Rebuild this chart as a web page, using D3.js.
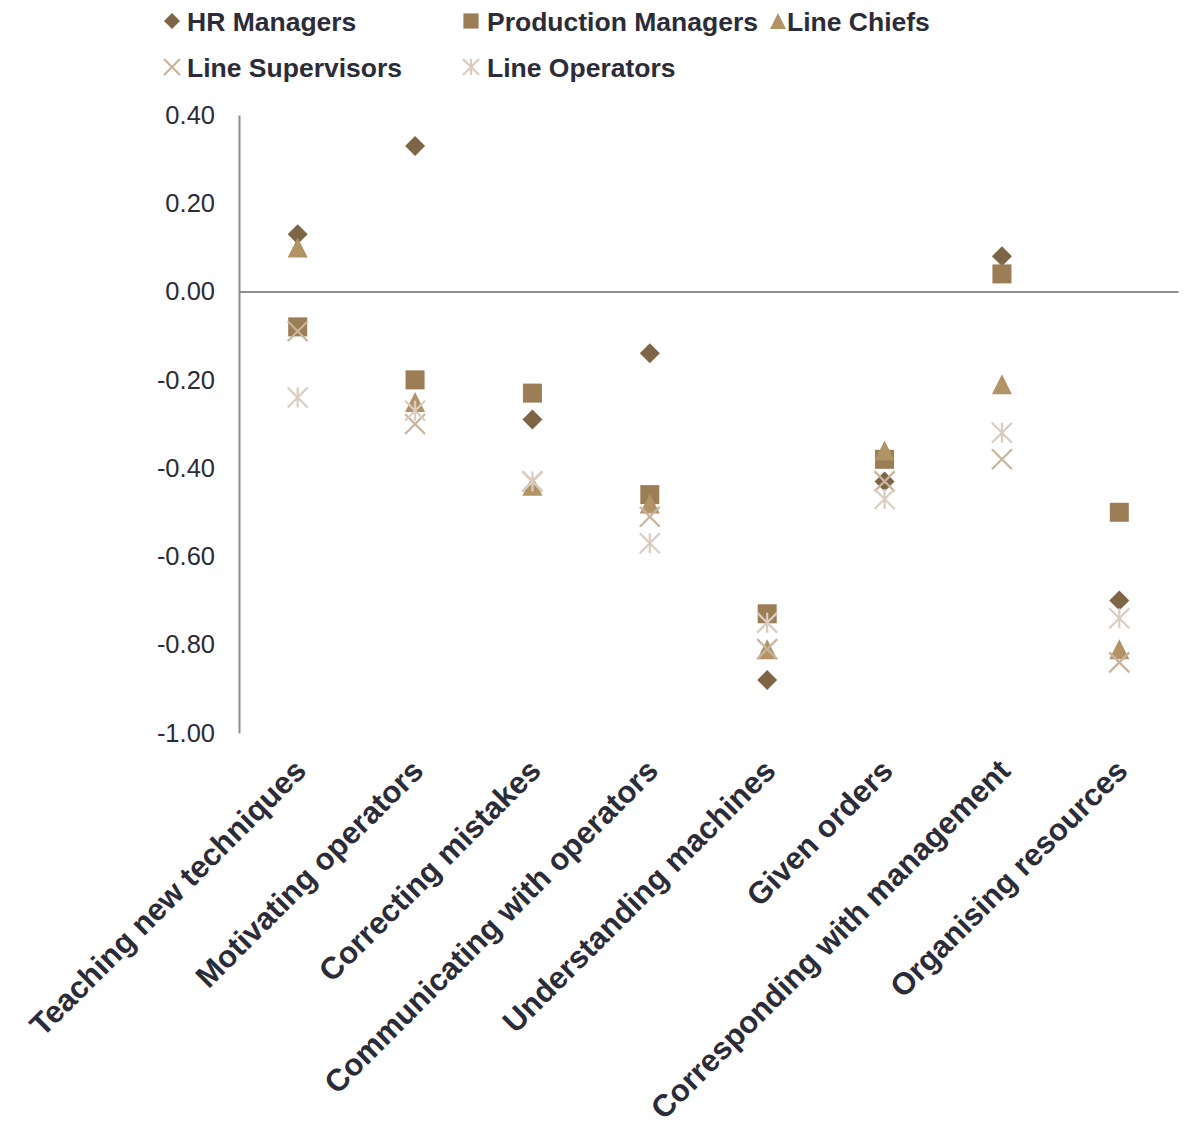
<!DOCTYPE html>
<html>
<head>
<meta charset="utf-8">
<script src="https://cdn.jsdelivr.net/npm/d3@7"></script>
<style>
  html, body { margin: 0; padding: 0; background: #ffffff; }
  svg { display: block; }
</style>
</head>
<body>
<svg id="chart" width="1183" height="1128"></svg>
<script>
// Skill areas rated by each group
const categories = [
  "Teaching new techniques",
  "Motivating operators",
  "Correcting mistakes",
  "Communicating with operators",
  "Understanding machines",
  "Given orders",
  "Corresponding with management",
  "Organising resources"
];

// Scores per respondent group, one value per skill area
const hrManagers         = [0.13, 0.33, -0.29, -0.14, -0.88, -0.43, 0.08, -0.70];
const productionManagers = [-0.08, -0.20, -0.23, -0.46, -0.73, -0.38, 0.04, -0.50];
const lineChiefs         = [0.10, -0.25, -0.44, -0.48, -0.81, -0.36, -0.21, -0.81];
const lineSupervisors    = [-0.09, -0.30, -0.43, -0.51, -0.81, -0.43, -0.38, -0.84];
const lineOperators      = [-0.24, -0.27, -0.43, -0.57, -0.75, -0.47, -0.32, -0.74];

const seriesNames = ["HR Managers", "Production Managers", "Line Chiefs", "Line Supervisors", "Line Operators"];
const yTicks = [0.40, 0.20, 0.00, -0.20, -0.40, -0.60, -0.80, -1.00];

const series = [
  { name: seriesNames[0], values: hrManagers,         shape: "diamond",  color: "#7e6546" },
  { name: seriesNames[1], values: productionManagers, shape: "square",   color: "#9b7d56" },
  { name: seriesNames[2], values: lineChiefs,         shape: "triangle", color: "#b19366" },
  { name: seriesNames[3], values: lineSupervisors,    shape: "cross",    color: "#c9b49d" },
  { name: seriesNames[4], values: lineOperators,      shape: "star",     color: "#dacdc0" }
];

const svg = d3.select("#chart");
const textColor = "#2c2c38";
const font = "'Liberation Sans', Arial, sans-serif";

const x = d3.scalePoint().domain(categories).range([239, 1178]).padding(0.5);
const y = d3.scaleLinear().domain([-1, 0.4]).range([733, 115]);

// Marker drawing: s = full marker size in px
function drawMarker(g, shape, cx, cy, s, color) {
  const h = s / 2;
  if (shape === "diamond") {
    g.append("path")
      .attr("d", `M${cx},${cy - h}L${cx + h},${cy}L${cx},${cy + h}L${cx - h},${cy}Z`)
      .attr("fill", color);
  } else if (shape === "square") {
    const q = h * 0.95;
    g.append("rect")
      .attr("x", cx - q).attr("y", cy - q)
      .attr("width", 2 * q).attr("height", 2 * q)
      .attr("fill", color);
  } else if (shape === "triangle") {
    g.append("path")
      .attr("d", `M${cx},${cy - h}L${cx + h},${cy + h}L${cx - h},${cy + h}Z`)
      .attr("fill", color);
  } else if (shape === "cross") {
    g.append("path")
      .attr("d", `M${cx - h},${cy - h}L${cx + h},${cy + h}M${cx + h},${cy - h}L${cx - h},${cy + h}`)
      .attr("stroke", color).attr("stroke-width", 2.2).attr("fill", "none");
  } else if (shape === "star") {
    g.append("path")
      .attr("d", `M${cx - h},${cy - h}L${cx + h},${cy + h}M${cx + h},${cy - h}L${cx - h},${cy + h}M${cx},${cy - h}L${cx},${cy + h}`)
      .attr("stroke", color).attr("stroke-width", 2.2).attr("fill", "none");
  }
}

// Axes
const fmt = d3.format(".2f");
const yAxis = d3.axisLeft(y).tickValues(yTicks).tickSize(0).tickPadding(24)
  .tickFormat(d => fmt(d).replace("\u2212", "-"));
const yAxisG = svg.append("g").attr("transform", "translate(239,0)").call(yAxis);
yAxisG.select(".domain").attr("stroke", "#8e8e8e").attr("stroke-width", 2);
yAxisG.selectAll("text")
  .attr("font-family", font).attr("font-size", 25.5).attr("fill", textColor);

// Zero baseline with category labels
const xAxis = d3.axisBottom(x).tickSize(0).tickPadding(0);
const xAxisG = svg.append("g").attr("transform", `translate(0,${y(0)})`).call(xAxis);
xAxisG.select(".domain").attr("stroke", "#8e8e8e").attr("stroke-width", 2);
xAxisG.selectAll("text")
  .attr("font-family", font).attr("font-size", 31).attr("font-weight", "bold")
  .attr("fill", textColor)
  .attr("text-anchor", "end")
  .attr("dy", "0.35em")
  .attr("transform", d => `translate(2,${y(-1) - y(0) + 32}) rotate(-45)`);

// Points
const marks = svg.append("g");
series.forEach(s => {
  const g = marks.append("g");
  s.values.forEach((v, i) => drawMarker(g, s.shape, x(categories[i]), y(v), 20, s.color));
});

// Legend
const legendItems = [
  { sx: 172, tx: 187, cy: 21 },
  { sx: 471, tx: 487, cy: 21 },
  { sx: 778, tx: 787, cy: 21 },
  { sx: 172, tx: 187, cy: 67 },
  { sx: 471, tx: 487, cy: 67 }
];
const legend = svg.append("g");
series.forEach((s, i) => {
  const p = legendItems[i];
  drawMarker(legend, s.shape, p.sx, p.cy, 16, s.color);
  legend.append("text")
    .attr("x", p.tx).attr("y", p.cy).attr("dy", "0.36em")
    .attr("font-family", font).attr("font-size", 26.5).attr("font-weight", "bold")
    .attr("fill", textColor)
    .text(s.name);
});
</script>
</body>
</html>
